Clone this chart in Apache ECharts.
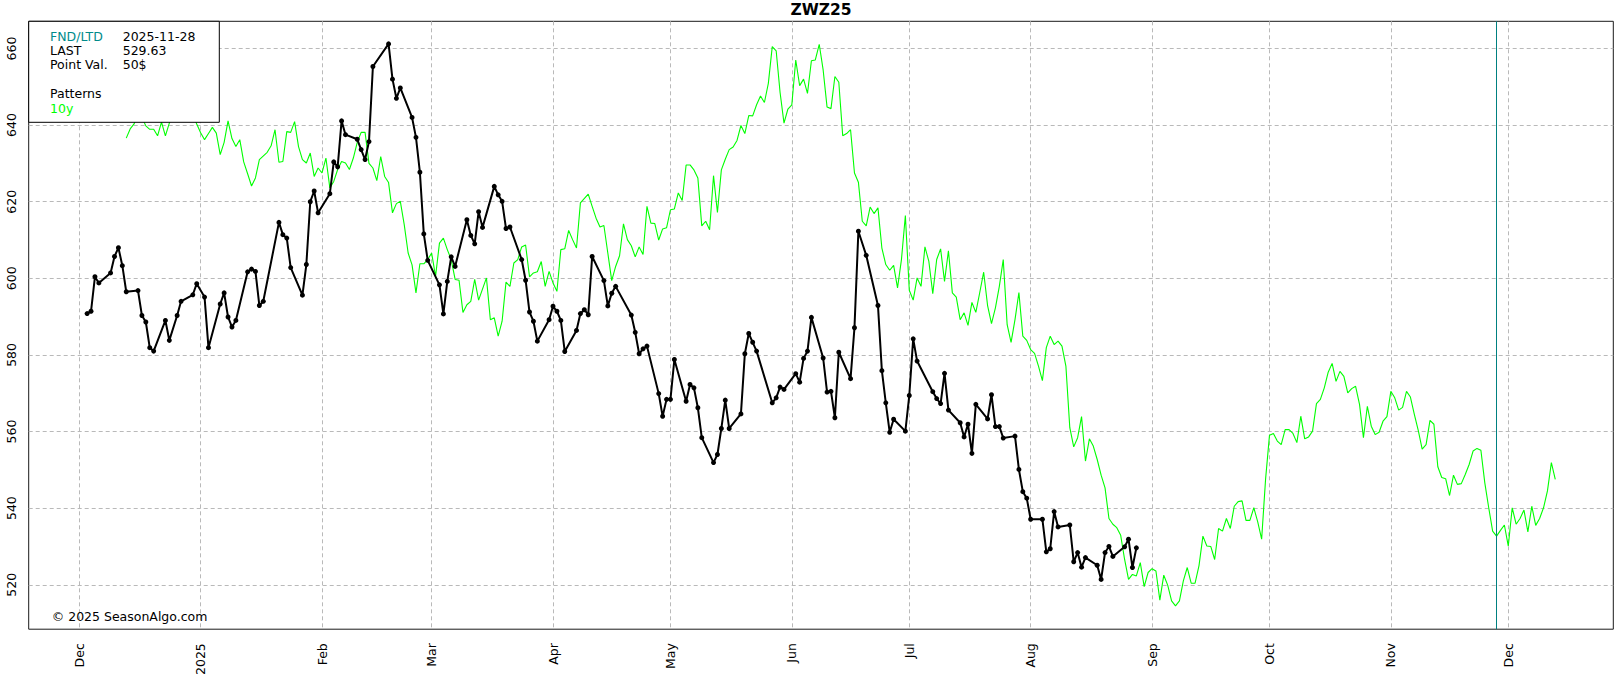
<!DOCTYPE html>
<html>
<head>
<meta charset="utf-8">
<script src="https://cdn.jsdelivr.net/npm/echarts@6/dist/echarts.min.js"></script>
<style>
html,body{margin:0;padding:0;background:#fff;}
#chart{width:1621px;height:678px;}
</style>
</head>
<body>
<div id="chart"></div>
<script>
const chartTitle = 'ZWZ25';
const fndDate = [2025, 10, 28];          // 2025-11-28 (month is 0-based)
const fndLabel = '2025-11-28';
const lastPrice = '529.63';
const pointValue = '50$';
const patternName = '10y';
const copyright = '\u00a9 2025 SeasonAlgo.com';
const monthNames = ['Jan','Feb','Mar','Apr','May','Jun','Jul','Aug','Sep','Oct','Nov','Dec'];

const priceDates = [
'2024-12-03','2024-12-04','2024-12-05','2024-12-06','2024-12-09','2024-12-10','2024-12-11','2024-12-12','2024-12-13',
'2024-12-16','2024-12-17','2024-12-18','2024-12-19','2024-12-20','2024-12-23','2024-12-24','2024-12-26','2024-12-27','2024-12-30','2024-12-31',
'2025-01-02','2025-01-03','2025-01-06','2025-01-07','2025-01-08','2025-01-09','2025-01-10','2025-01-13','2025-01-14','2025-01-15','2025-01-16','2025-01-17',
'2025-01-21','2025-01-22','2025-01-23','2025-01-24','2025-01-27','2025-01-28','2025-01-29','2025-01-30','2025-01-31',
'2025-02-03','2025-02-04','2025-02-05','2025-02-06','2025-02-07','2025-02-10','2025-02-11','2025-02-12','2025-02-13','2025-02-14',
'2025-02-18','2025-02-19','2025-02-20','2025-02-21','2025-02-24','2025-02-25','2025-02-26','2025-02-27','2025-02-28',
'2025-03-03','2025-03-04','2025-03-05','2025-03-06','2025-03-07','2025-03-10','2025-03-11','2025-03-12','2025-03-13','2025-03-14',
'2025-03-17','2025-03-18','2025-03-19','2025-03-20','2025-03-21','2025-03-24','2025-03-25','2025-03-26','2025-03-27','2025-03-28',
'2025-03-31','2025-04-01','2025-04-02','2025-04-03','2025-04-04','2025-04-07','2025-04-08','2025-04-09','2025-04-10','2025-04-11',
'2025-04-14','2025-04-15','2025-04-16','2025-04-17','2025-04-21','2025-04-22','2025-04-23','2025-04-24','2025-04-25',
'2025-04-28','2025-04-29','2025-04-30','2025-05-01','2025-05-02','2025-05-05','2025-05-06','2025-05-07','2025-05-08','2025-05-09',
'2025-05-12','2025-05-13','2025-05-14','2025-05-15','2025-05-16','2025-05-19','2025-05-20','2025-05-21','2025-05-22','2025-05-23',
'2025-05-27','2025-05-28','2025-05-29','2025-05-30','2025-06-02','2025-06-03','2025-06-04','2025-06-05','2025-06-06',
'2025-06-09','2025-06-10','2025-06-11','2025-06-12','2025-06-13','2025-06-16','2025-06-17','2025-06-18','2025-06-20',
'2025-06-23','2025-06-24','2025-06-25','2025-06-26','2025-06-27','2025-06-30','2025-07-01','2025-07-02','2025-07-03',
'2025-07-07','2025-07-08','2025-07-09','2025-07-10','2025-07-11','2025-07-14','2025-07-15','2025-07-16','2025-07-17','2025-07-18',
'2025-07-21','2025-07-22','2025-07-23','2025-07-24','2025-07-25','2025-07-28','2025-07-29','2025-07-30','2025-07-31','2025-08-01',
'2025-08-04','2025-08-05','2025-08-06','2025-08-07','2025-08-08','2025-08-11','2025-08-12','2025-08-13','2025-08-14','2025-08-15',
'2025-08-18','2025-08-19','2025-08-20','2025-08-21','2025-08-22','2025-08-25','2025-08-26','2025-08-27','2025-08-28'
];
const priceValues = [
590.8,591.4,600.4,598.8,601.4,605.7,608.0,603.3,596.5,
596.8,590.3,588.6,581.9,581.0,589.0,583.8,590.3,594.0,595.7,598.6,
595.1,581.9,593.3,596.2,589.9,587.3,589.0,601.7,602.4,601.8,592.9,594.0,
614.6,611.4,610.5,602.8,595.6,603.6,620.0,622.8,617.1,
622.1,630.4,629.1,641.1,637.5,636.3,633.6,631.0,635.7,655.3,
661.2,652.0,647.0,649.7,642.0,636.8,627.7,611.6,604.7,
598.3,590.7,599.2,605.6,603.1,615.3,611.2,609.0,617.4,613.3,
624.0,621.8,620.1,613.0,613.4,604.9,599.5,591.2,588.8,583.6,
589.2,592.7,591.4,589.0,580.9,586.4,590.8,591.8,590.5,605.7,
599.4,592.8,596.1,597.9,590.4,585.9,580.3,581.6,582.3,
569.9,564.0,568.4,568.4,578.8,567.9,572.3,571.4,566.2,558.4,
551.9,554.0,560.8,568.2,560.8,564.6,580.3,585.6,583.3,581.0,
567.5,568.8,571.6,571.0,575.1,572.9,579.1,581.0,589.8,
579.2,570.3,570.5,563.6,580.7,573.8,587.1,612.3,606.0,
592.9,575.9,567.5,559.8,563.2,560.1,569.4,584.2,578.4,
570.4,568.6,567.3,575.2,565.6,562.3,558.6,561.9,554.3,567.1,
563.3,569.6,561.3,561.3,558.3,558.8,550.1,544.3,542.6,537.1,
537.1,528.6,529.4,539.1,535.1,535.6,526.0,528.4,524.6,527.1,
525.1,521.4,528.4,530.0,527.4,529.9,531.9,524.5,529.63
];

// 10y seasonal pattern, one value per calendar day starting 2024-12-13
const patternStart = [2024, 11, 13];
const patternValues = [
636.6,639.0,640.3,643.0,642.0,639.8,638.9,638.9,637.2,640.8,
637.2,640.5,643.0,645.0,644.0,646.0,645.0,643.0,640.3,638.0,
636.2,637.8,639.4,637.9,632.3,635.5,641.1,636.5,634.4,636.2,
630.4,627.3,624.1,626.2,631.0,null,632.9,634.6,638.8,630.3,
630.5,638.3,638.1,640.9,634.4,631.0,630.1,632.7,626.6,628.8,
627.5,631.4,623.6,625.3,628.4,630.5,630.1,628.4,631.4,635.5,
638.1,638.1,630.0,628.8,625.5,631.8,626.6,625.0,617.1,619.5,
620.1,614.0,606.6,603.5,596.2,603.8,603.8,604.9,606.6,600.5,
609.2,610.5,607.5,604.9,599.7,599.5,591.1,593.1,594.0,599.7,
594.3,null,600.1,589.2,589.7,584.9,588.8,599.0,597.9,604.0,
604.9,608.2,608.7,600.4,601.4,601.7,604.4,597.9,601.8,598.8,
596.6,607.5,607.7,612.5,610.1,607.9,619.7,null,622.0,618.8,
615.7,613.4,613.8,606.6,599.4,603.1,605.9,614.2,610.1,608.5,
605.6,608.2,606.2,618.8,614.4,614.3,610.0,612.9,613.2,617.9,
618.1,622.3,620.3,629.6,629.6,628.3,626.2,613.7,614.9,612.7,
626.8,617.2,628.3,631.1,633.6,634.3,636.0,639.9,637.8,642.5,
642.4,645.3,647.6,645.9,650.9,660.5,659.4,648.5,640.5,644.2,
645.3,657.0,650.3,652.0,648.3,656.8,657.0,661.1,654.4,644.7,
644.3,652.7,651.2,637.2,637.8,638.8,627.5,625.1,614.9,613.7,
618.6,616.9,618.4,607.9,603.6,602.1,603.4,597.5,604.9,616.4,
596.9,594.3,600.1,597.9,608.2,604.4,596.0,604.9,607.7,599.2,
607.2,596.2,595.1,589.2,591.0,587.7,593.7,591.1,596.3,601.6,
592.9,588.2,592.3,597.9,604.9,587.9,583.3,589.2,596.3,584.9,
583.8,581.4,580.4,577.1,573.3,581.9,584.9,582.7,583.6,582.3,
577.1,561.0,556.0,558.4,563.9,552.3,558.1,556.2,552.7,548.6,
545.3,537.3,535.8,534.9,532.9,526.6,521.4,522.7,522.3,525.8,
519.5,523.2,524.2,523.6,516.0,522.5,519.9,515.8,514.5,515.8,
521.0,524.5,520.4,520.4,525.0,532.7,530.1,530.0,526.6,534.7,
534.0,537.3,534.7,540.5,541.7,541.9,536.8,536.8,540.1,536.4,
531.9,547.5,559.0,559.5,557.5,556.6,560.5,560.5,559.5,557.1,
564.0,558.1,558.6,560.1,567.3,568.4,571.4,575.5,577.8,573.1,
575.7,574.4,570.1,571.2,571.8,567.1,558.4,566.6,561.4,559.2,
559.8,562.7,563.9,570.5,568.8,565.6,566.3,570.5,569.0,564.5,
560.3,555.4,556.6,562.9,561.9,550.8,548.0,547.7,543.3,548.6,
546.2,546.4,548.8,551.4,554.9,555.6,555.1,546.6,540.1,534.0,
532.7,534.2,535.6,530.1,540.1,535.8,537.3,539.5,533.8,540.5,
535.5,537.3,540.1,544.5,551.9,547.5
];

// axis ranges
const xMinDate = [2024, 10, 18, 2, 0];
const xMaxDate = [2025, 11, 27, 19, 40];
const yMin = 508.4, yMax = 667.1;

const DAY = 86400000;
const FONT = '"DejaVu Sans", sans-serif';
const gridColor = '#b9b9b9';

const priceData = priceDates.map((d, i) => [d, priceValues[i]]);
const patternData = patternValues.map((v, i) =>
  [new Date(patternStart[0], patternStart[1], patternStart[2] + i).getTime(), v]);

const chart = echarts.init(document.getElementById('chart'), null, {renderer: 'svg'});

const legendText = (txt, x, y, color) => ({
  type: 'text', x: x, y: y, z: 101,
  style: {text: txt, fill: color || '#000', font: '12.5px ' + FONT, align: 'left', verticalAlign: 'middle'}
});

chart.setOption({
  animation: false,
  backgroundColor: '#fff',
  textStyle: {fontFamily: FONT},
  grid: {left: 28.7, right: 7.7, top: 21.3, bottom: 48, show: true,
         borderColor: '#1a1a1a', borderWidth: 1, backgroundColor: 'transparent'},
  xAxis: {
    type: 'time',
    min: new Date(...xMinDate).getTime(),
    max: new Date(...xMaxDate).getTime(),
    minInterval: 28 * DAY, maxInterval: 31 * DAY,
    axisLine: {show: false}, axisTick: {show: false},
    splitLine: {show: true, showMinLine: false, showMaxLine: false,
                lineStyle: {color: gridColor, width: 1, type: [4, 3]}},
    axisLabel: {
      rotate: 90, margin: 14, fontSize: 12.5, color: '#000', fontFamily: FONT,
      showMinLabel: false, showMaxLabel: false, hideOverlap: false,
      formatter: function (val) {
        const d = new Date(val);
        return d.getMonth() === 0 ? String(d.getFullYear()) : monthNames[d.getMonth()];
      }
    }
  },
  yAxis: {
    type: 'value', min: yMin, max: yMax, splitNumber: 8, scale: true,
    axisLine: {show: false}, axisTick: {show: false},
    splitLine: {show: true, showMinLine: false, showMaxLine: false,
                lineStyle: {color: gridColor, width: 1, type: [4, 3]}},
    axisLabel: {rotate: 90, margin: 11, fontSize: 12.5, color: '#000', fontFamily: FONT,
                showMinLabel: false, showMaxLabel: false}
  },
  graphic: [
    {type: 'text', x: 821, y: 10, z: 101,
     style: {text: chartTitle, fill: '#000', font: 'bold 15.5px ' + FONT, align: 'center', verticalAlign: 'middle'}},
    {type: 'rect', z: 100, shape: {x: 28.7, y: 21.3, width: 190.6, height: 101},
     style: {fill: '#fff', stroke: '#000', lineWidth: 1}},
    legendText('FND/LTD', 50, 36.7, '#008b8b'),
    legendText(fndLabel, 122.7, 36.7),
    legendText('LAST', 50, 50.7),
    legendText(lastPrice, 122.7, 50.7),
    legendText('Point Val.', 50, 64.5),
    legendText(pointValue, 122.7, 64.5),
    legendText('Patterns', 50, 93.7),
    legendText(patternName, 50, 108.2, '#00ff00'),
    legendText(copyright, 51.7, 616.7)
  ],
  series: [
    {
      name: patternName, type: 'line', data: patternData, showSymbol: false,
      connectNulls: true, z: 3,
      lineStyle: {color: '#00ff00', width: 1.1}, itemStyle: {color: '#00ff00'},
      markLine: {
        silent: true, symbol: ['none', 'none'], label: {show: false},
        lineStyle: {color: '#008080', width: 1, type: 'solid'},
        data: [{xAxis: new Date(...fndDate).getTime()}]
      }
    },
    {
      name: 'ZWZ25', type: 'line', data: priceData, z: 4,
      symbol: 'circle', symbolSize: 5, showAllSymbol: true,
      lineStyle: {color: '#000', width: 2}, itemStyle: {color: '#000'}
    }
  ]
});
</script>
</body>
</html>
